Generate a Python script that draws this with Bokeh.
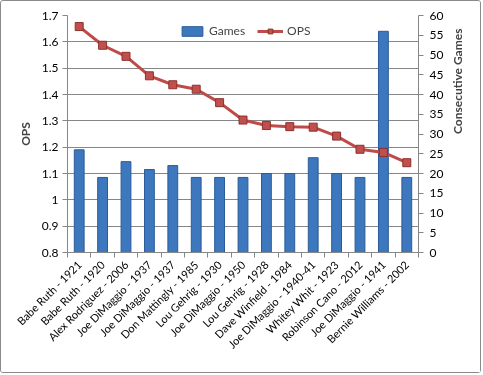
import numpy as np
from bokeh.plotting import figure
from bokeh.models import (Range1d, LinearAxis, FixedTicker,
                          CustomJSTickFormatter, Legend, LegendItem, ColumnDataSource)
from bokeh.embed import file_html
from bokeh.resources import INLINE

players = ["Babe Ruth - 1921", "Babe Ruth - 1920", "Alex Rodriguez - 2006",
           "Joe DiMaggio - 1937", "Joe DiMaggio - 1937", "Don Mattingly - 1985",
           "Lou Gehrig - 1930", "Joe DiMaggio - 1950", "Lou Gehrig - 1928",
           "Dave Winfield - 1984", "Joe DiMaggio - 1940-41", "Whitey Whit - 1923",
           "Robinson Cano - 2012", "Joe DiMaggio - 1941", "Bernie Williams - 2002"]
games = [26, 19, 23, 21, 22, 19, 19, 19, 20, 20, 24, 20, 19, 56, 19]
ops = [1.658, 1.587, 1.545, 1.471, 1.437, 1.420, 1.369, 1.303, 1.282, 1.278,
       1.276, 1.242, 1.192, 1.180, 1.141]
ops_ticks = [0.8, 0.9, 1.0, 1.1, 1.2, 1.3, 1.4, 1.5, 1.6, 1.7]
games_ticks = [0, 5, 10, 15, 20, 25, 30, 35, 40, 45, 50, 55, 60]

n = len(players)
xpos = [i + 0.5 for i in range(n)]
src = ColumnDataSource(dict(x=xpos, games=games, ops=ops))

FONT = "Lato"
GRAY = "#868686"

p = figure(width=481, height=373, output_backend="svg", toolbar_location=None,
           x_range=Range1d(0, n), y_range=Range1d(ops_ticks[0], ops_ticks[-1]),
           min_border_left=66, min_border_right=64, min_border_top=14,
           min_border_bottom=122)
p.styles = {"position": "fixed", "left": "0px", "top": "0px",
            "border": "1px solid #8a8a8a", "border-radius": "3px"}
p.outline_line_color = None
p.background_fill_color = "white"
p.border_fill_color = "white"
p.extra_y_ranges = {"games": Range1d(games_ticks[0], games_ticks[-1])}

bars = p.vbar(x="x", top="games", width=0.42, bottom=0, source=src,
              y_range_name="games", fill_color="#3D77BD", line_color="#2B5C98",
              line_width=1)
line = p.line(x="x", y="ops", source=src, line_color="#BE4B48", line_width=3)
marks = p.scatter(x="x", y="ops", source=src, marker="square", size=8,
                  fill_color="#C0504D", line_color="#8E302D", line_width=1)

# x axis
xa = p.xaxis[0]
xa.ticker = FixedTicker(ticks=xpos, minor_ticks=list(range(n + 1)))
xa.major_label_overrides = {x: lab for x, lab in zip(xpos, players)}
xa.major_label_orientation = np.pi / 4
xa.major_tick_in = 0
xa.major_tick_out = 0
xa.minor_tick_in = 0
xa.minor_tick_out = 5
xa.minor_tick_line_color = GRAY
xa.axis_line_color = GRAY
xa.major_label_text_font = FONT
xa.major_label_text_font_size = "11px"
xa.major_label_text_color = "#000000"
xa.major_label_standoff = 5
p.xgrid.visible = False

# left axis
ya = p.yaxis[0]
ya.ticker = FixedTicker(ticks=ops_ticks)
ya.formatter = CustomJSTickFormatter(code="return String(Number(tick.toFixed(1)));")
ya.axis_label = "OPS"
ya.axis_label_text_font = FONT
ya.axis_label_text_font_style = "bold"
ya.axis_label_text_font_size = "12px"
ya.axis_label_standoff = 6
ya.major_label_text_font = FONT
ya.major_label_text_font_size = "12px"
ya.major_label_text_color = "#000000"
ya.major_tick_in = 0
ya.major_tick_out = 5
ya.minor_tick_out = 0
ya.minor_tick_in = 0
ya.major_tick_line_color = GRAY
ya.axis_line_color = GRAY
ya.major_label_standoff = 4
p.ygrid.grid_line_color = GRAY
p.ygrid.ticker = ya.ticker

# right axis
ra = LinearAxis(y_range_name="games", ticker=FixedTicker(ticks=games_ticks),
                axis_label="Consecutive Games")
ra.axis_label_orientation = np.pi / 2
ra.axis_label_text_font = FONT
ra.axis_label_text_font_style = "bold"
ra.axis_label_text_font_size = "12px"
ra.axis_label_standoff = 11
ra.major_label_text_font = FONT
ra.major_label_text_font_size = "12px"
ra.major_label_text_color = "#000000"
ra.major_tick_in = 0
ra.major_tick_out = 5
ra.minor_tick_out = 0
ra.minor_tick_in = 0
ra.major_tick_line_color = GRAY
ra.axis_line_color = GRAY
ra.major_label_standoff = 6
p.add_layout(ra, "right")

legend = Legend(items=[LegendItem(label="Games", renderers=[bars]),
                       LegendItem(label="OPS", renderers=[line, marks])],
                orientation="horizontal", location=(112, 214),
                padding=0, margin=0, spacing=12, label_standoff=4,
                glyph_width=26, glyph_height=12,
                border_line_color=None, background_fill_alpha=0,
                label_text_font=FONT, label_text_font_size="12px")
p.add_layout(legend, "center")

open("out.html", "w").write(file_html(p, INLINE))
